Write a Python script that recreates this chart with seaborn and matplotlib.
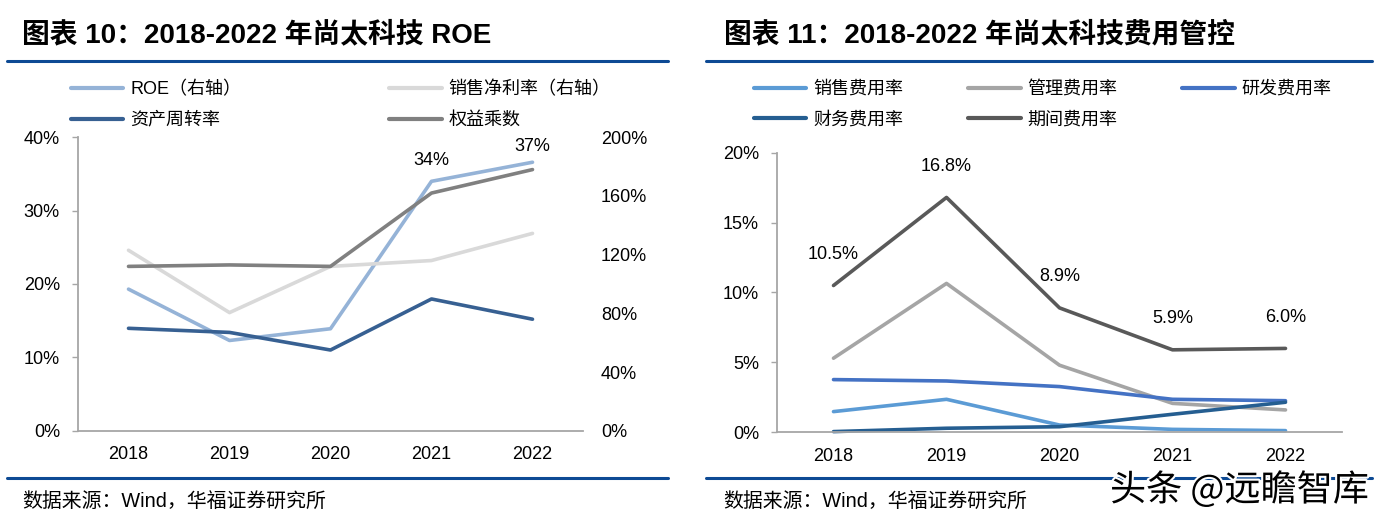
import pandas as pd
import matplotlib
matplotlib.use("Agg")
import matplotlib.pyplot as plt
import matplotlib.patheffects as pe
from matplotlib.lines import Line2D
from matplotlib.ticker import FuncFormatter
import seaborn as sns

years = [2018, 2019, 2020, 2021, 2022]

# 图表10：ROE 拆解（ROE、净利率读左侧刻度，周转率、权益乘数读右侧刻度）
roe = [19.3, 12.3, 13.9, 34.0, 36.6]
net_margin = [24.6, 16.1, 22.4, 23.2, 26.9]
asset_turnover = [69.8, 67.0, 55.0, 89.8, 76.0]
equity_multiplier = [112.0, 113.0, 112.0, 162.0, 178.0]

# 图表11：费用率
sales_rate = [1.48, 2.36, 0.52, 0.21, 0.12]
admin_rate = [5.3, 10.65, 4.8, 2.07, 1.6]
rd_rate = [3.77, 3.67, 3.27, 2.36, 2.26]
fin_rate = [0.05, 0.29, 0.40, 1.29, 2.15]
period_rate = [10.5, 16.8, 8.9, 5.9, 6.0]

left_df = pd.DataFrame({"年份": years, "ROE": roe, "净利率": net_margin,
                        "周转率": asset_turnover, "权益乘数": equity_multiplier})
right_df = pd.DataFrame({"年份": years, "销售费用率": sales_rate, "管理费用率": admin_rate,
                         "研发费用率": rd_rate, "财务费用率": fin_rate, "期间费用率": period_rate})

sns.set_theme(style="white")
plt.rcParams["font.family"] = ["Liberation Sans", "Noto Sans CJK SC", "DejaVu Sans"]
plt.rcParams["axes.unicode_minus"] = False

W, H = 1375, 525
fig = plt.figure(figsize=(W / 100, H / 100), dpi=100)


def box(x0, y_top, x1, y_bottom):
    return [x0 / W, 1 - y_bottom / H, (x1 - x0) / W, (y_bottom - y_top) / H]


ax1 = fig.add_axes(box(78, 137.3, 583, 430.7))
ax1r = ax1.twinx()
ax2 = fig.add_axes(box(777, 152.7, 1342, 432.3))

LW = 2.6
left_series = [
    (ax1, "ROE", "ROE（右轴）", "#95B3D7"),
    (ax1, "净利率", "销售净利率（右轴）", "#D9D9D9"),
    (ax1r, "周转率", "资产周转率", "#376092"),
    (ax1r, "权益乘数", "权益乘数", "#808080"),
]
left_handles = {}
for ax, col, lab, c in left_series:
    sns.lineplot(data=left_df, x="年份", y=col, ax=ax, color=c, lw=LW, legend=False, clip_on=False)
    left_handles[lab] = Line2D([], [], color=c, lw=3)

right_series = [
    ("销售费用率", "#5B9BD5"),
    ("管理费用率", "#A5A5A5"),
    ("研发费用率", "#4472C4"),
    ("财务费用率", "#255E91"),
    ("期间费用率", "#595959"),
]
right_handles = {}
for col, c in right_series:
    sns.lineplot(data=right_df, x="年份", y=col, ax=ax2, color=c, lw=LW, legend=False, clip_on=False)
    right_handles[col] = Line2D([], [], color=c, lw=3)

pct = FuncFormatter(lambda v, p: f"{v:.0f}%")
for ax in (ax1, ax2):
    ax.set_xlim(2017.5, 2022.5)
    ax.set_xticks(years)
    ax.set_xlabel("")
    ax.set_ylabel("")
    ax.spines["top"].set_visible(False)
    ax.spines["right"].set_visible(False)
    for s in ("left", "bottom"):
        ax.spines[s].set_color("#A6A6A6")
        ax.spines[s].set_linewidth(1.3)
    ax.tick_params(axis="y", left=True, length=4, width=1, color="#A6A6A6",
                   pad=9, labelsize=13, labelcolor="black")
    ax.tick_params(axis="x", bottom=False, length=0, pad=11, labelsize=13, labelcolor="black")
    ax.yaxis.set_major_formatter(pct)

ax1.set_ylim(0, 40)
ax1.set_yticks(range(0, 41, 10))
ax1r.set_ylim(0, 200)
ax1r.set_yticks(range(0, 201, 40))
ax1r.set_ylabel("")
ax1r.yaxis.set_major_formatter(pct)
for s in ax1r.spines.values():
    s.set_visible(False)
ax1r.tick_params(axis="y", right=False, length=0, pad=13, labelsize=13, labelcolor="black")

ax2.set_ylim(0, 20)
ax2.set_yticks(range(0, 21, 5))

# 数据标签
for x, v, off in zip(years[-2:], roe[-2:], [15, 11.5]):
    ax1.annotate(f"{v:.0f}%", (x, v), xytext=(0, off), textcoords="offset points",
                 ha="center", va="center", fontsize=13, color="black")
for x, v in zip(years, period_rate):
    ax2.annotate(f"{v:.1f}%", (x, v), xytext=(0, 22.5), textcoords="offset points",
                 ha="center", va="center", fontsize=13, color="black")

# 图例
ll = ["ROE（右轴）", "资产周转率", "销售净利率（右轴）", "权益乘数"]
fig.legend([left_handles[k] for k in ll], ll, loc="upper left",
           bbox_to_anchor=(71 / W, 1 - 81 / H), ncol=2,
           frameon=False, fontsize=13, handlelength=2.9, handletextpad=0.38,
           columnspacing=8.2, labelspacing=0.75, borderpad=0, borderaxespad=0,
           labelcolor="black")
rl = ["销售费用率", "财务费用率", "管理费用率", "期间费用率", "研发费用率"]
fig.legend([right_handles[k] for k in rl], rl, loc="upper left",
           bbox_to_anchor=(754 / W, 1 - 81 / H), ncol=3, frameon=False, fontsize=13,
           handlelength=2.9, handletextpad=0.38, columnspacing=3.6, labelspacing=0.75,
           borderpad=0, borderaxespad=0, labelcolor="black")

# 标题、分隔线与来源
title_font = ["Liberation Sans", "Noto Sans CJK SC"]
fig.text(22 / W, 1 - 35 / H, "图表 10：2018-2022 年尚太科技 ROE", fontsize=20,
         fontweight="bold", ha="left", va="center", family=title_font, color="black")
fig.text(724 / W, 1 - 35 / H, "图表 11：2018-2022 年尚太科技费用管控", fontsize=20,
         fontweight="bold", ha="left", va="center", family=title_font, color="black")

blue = "#0D4A94"
for x0, x1 in [(7, 668), (706, 1372)]:
    for y in (60.5, 478):
        fig.add_artist(Line2D([x0 / W, x1 / W], [1 - y / H, 1 - y / H],
                              transform=fig.transFigure, color=blue, lw=2.2))

src = "数据来源：Wind，华福证券研究所"
fig.text(22 / W, 1 - 501 / H, src, fontsize=14.3, ha="left", va="center", color="black")
fig.text(723 / W, 1 - 501 / H, src, fontsize=14.3, ha="left", va="center", color="black")

fig.text(1369 / W, 1 - 490 / H, "头条 @远瞻智库", fontsize=26, ha="right", va="center",
         color="black", family=["Noto Sans CJK SC", "DejaVu Sans"],
         path_effects=[pe.withStroke(linewidth=3, foreground="white")])

fig.savefig("out.png", dpi=100)
